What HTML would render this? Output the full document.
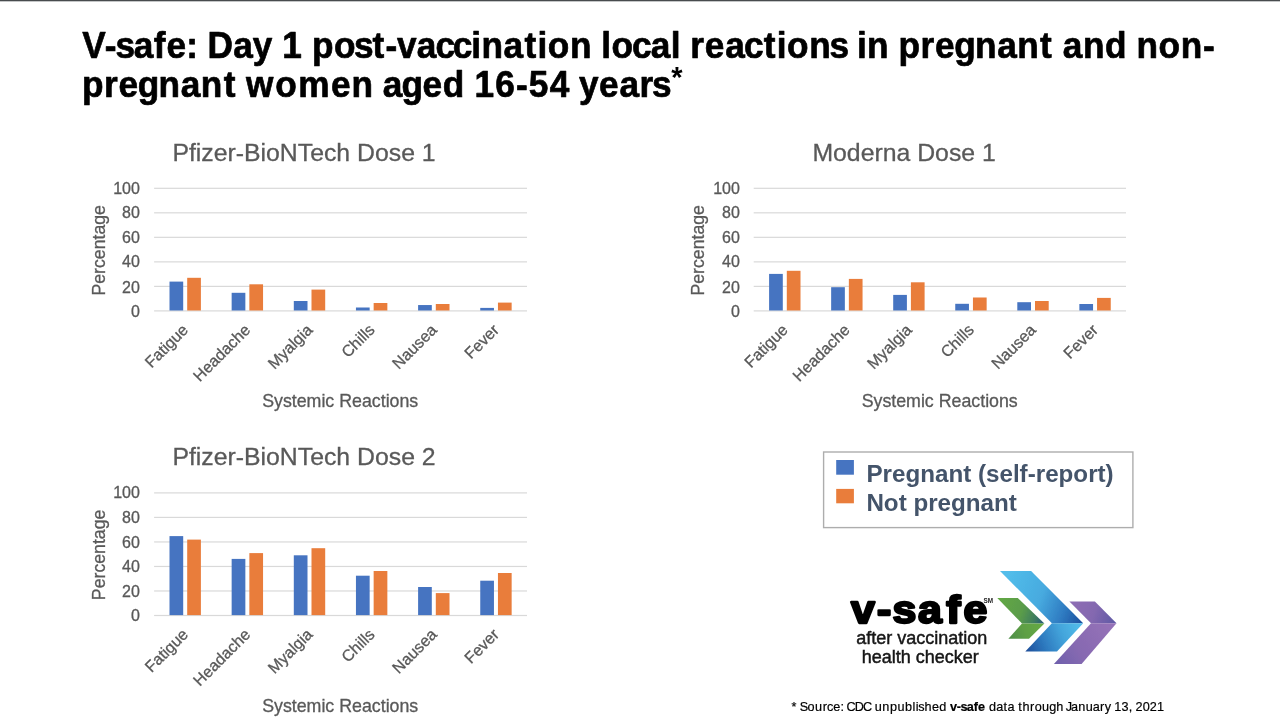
<!DOCTYPE html>
<html lang="en"><head><meta charset="utf-8"><title>V-safe: Day 1 post-vaccination reactions</title>
<style>
html,body{margin:0;padding:0;background:#fff;}
body{width:1280px;height:722px;position:relative;overflow:hidden;font-family:"Liberation Sans",sans-serif;}
.topbar{position:absolute;left:0;top:0;width:1280px;height:1px;background:#484b4e;}
.topbar2{position:absolute;left:0;top:1px;width:1280px;height:1px;background:#c4c6c7;}
</style></head><body>
<div class="topbar"></div><div class="topbar2"></div>
<svg width="1280" height="722" viewBox="0 0 1280 722" style="position:absolute;left:0;top:0;font-family:'Liberation Sans',sans-serif">
<defs>
<filter id="blur" x="-5%" y="-5%" width="110%" height="110%"><feGaussianBlur stdDeviation="0.45"/></filter>
<linearGradient id="gb1" gradientUnits="userSpaceOnUse" x1="1003" y1="588" x2="1083" y2="620"><stop offset="0" stop-color="#52BDEA"/><stop offset="0.45" stop-color="#47AADF"/><stop offset="0.75" stop-color="#2F7CC2"/><stop offset="1" stop-color="#1D4F9E"/></linearGradient>
<linearGradient id="gb2" gradientUnits="userSpaceOnUse" x1="1026" y1="650" x2="1078" y2="628"><stop offset="0" stop-color="#1E4F9B"/><stop offset="0.35" stop-color="#2E7BC0"/><stop offset="0.7" stop-color="#43A4DB"/><stop offset="1" stop-color="#50B9E8"/></linearGradient>
<linearGradient id="gg1" gradientUnits="userSpaceOnUse" x1="999" y1="604" x2="1044" y2="621"><stop offset="0" stop-color="#62A744"/><stop offset="0.5" stop-color="#5A9C4A"/><stop offset="0.8" stop-color="#3F7D5E"/><stop offset="1" stop-color="#27597A"/></linearGradient>
<linearGradient id="gg2" gradientUnits="userSpaceOnUse" x1="1009" y1="638" x2="1040" y2="625"><stop offset="0" stop-color="#4E8E47"/><stop offset="0.5" stop-color="#5E9F45"/><stop offset="1" stop-color="#65A843"/></linearGradient>
<linearGradient id="gp1" gradientUnits="userSpaceOnUse" x1="1071" y1="605" x2="1116" y2="621"><stop offset="0" stop-color="#8E6DB4"/><stop offset="0.5" stop-color="#8468B0"/><stop offset="1" stop-color="#5E59A5"/></linearGradient>
<linearGradient id="gp2" gradientUnits="userSpaceOnUse" x1="1055" y1="662" x2="1108" y2="627"><stop offset="0" stop-color="#6F60AC"/><stop offset="0.4" stop-color="#8669B1"/><stop offset="1" stop-color="#9471B7"/></linearGradient>
</defs>
<g transform="translate(0,0)" stroke="#595959" stroke-width="0.3">
<rect x="154.1" y="310.30" width="372.90" height="1.2" fill="#D9D9D9" stroke="none"/>
<text x="139.9" y="316.50" text-anchor="end" font-size="16" fill="#595959">0</text>
<rect x="154.1" y="285.78" width="372.90" height="1.2" fill="#D9D9D9" stroke="none"/>
<text x="139.9" y="292.58" text-anchor="end" font-size="16" fill="#595959">20</text>
<rect x="154.1" y="261.26" width="372.90" height="1.2" fill="#D9D9D9" stroke="none"/>
<text x="139.9" y="267.46" text-anchor="end" font-size="16" fill="#595959">40</text>
<rect x="154.1" y="236.74" width="372.90" height="1.2" fill="#D9D9D9" stroke="none"/>
<text x="139.9" y="242.94" text-anchor="end" font-size="16" fill="#595959">60</text>
<rect x="154.1" y="212.22" width="372.90" height="1.2" fill="#D9D9D9" stroke="none"/>
<text x="139.9" y="218.42" text-anchor="end" font-size="16" fill="#595959">80</text>
<rect x="154.1" y="187.70" width="372.90" height="1.2" fill="#D9D9D9" stroke="none"/>
<text x="139.9" y="193.90" text-anchor="end" font-size="16" fill="#595959">100</text>
<rect x="169.50" y="281.60" width="13.7" height="28.90" fill="#4674C1" stroke="none"/>
<rect x="187.20" y="277.80" width="13.7" height="32.70" fill="#E97D3B" stroke="none"/>
<text transform="translate(189.17,330.90) rotate(-45)" text-anchor="end" font-size="16" fill="#595959">Fatigue</text>
<rect x="231.65" y="292.80" width="13.7" height="17.70" fill="#4674C1" stroke="none"/>
<rect x="249.35" y="284.30" width="13.7" height="26.20" fill="#E97D3B" stroke="none"/>
<text transform="translate(251.32,330.90) rotate(-45)" text-anchor="end" font-size="16" fill="#595959">Headache</text>
<rect x="293.80" y="301.00" width="13.7" height="9.50" fill="#4674C1" stroke="none"/>
<rect x="311.50" y="289.60" width="13.7" height="20.90" fill="#E97D3B" stroke="none"/>
<text transform="translate(313.47,330.90) rotate(-45)" text-anchor="end" font-size="16" fill="#595959">Myalgia</text>
<rect x="355.95" y="307.50" width="13.7" height="3.00" fill="#4674C1" stroke="none"/>
<rect x="373.65" y="303.00" width="13.7" height="7.50" fill="#E97D3B" stroke="none"/>
<text transform="translate(375.62,330.90) rotate(-45)" text-anchor="end" font-size="16" fill="#595959">Chills</text>
<rect x="418.10" y="305.05" width="13.7" height="5.45" fill="#4674C1" stroke="none"/>
<rect x="435.80" y="304.00" width="13.7" height="6.50" fill="#E97D3B" stroke="none"/>
<text transform="translate(437.77,330.90) rotate(-45)" text-anchor="end" font-size="16" fill="#595959">Nausea</text>
<rect x="480.25" y="307.90" width="13.7" height="2.60" fill="#4674C1" stroke="none"/>
<rect x="497.95" y="302.60" width="13.7" height="7.90" fill="#E97D3B" stroke="none"/>
<text transform="translate(499.93,330.90) rotate(-45)" text-anchor="end" font-size="16" fill="#595959">Fever</text>
<text x="304.00" y="160.6" text-anchor="middle" font-size="24.8" fill="#595959">Pfizer-BioNTech Dose 1</text>
<text transform="translate(105.2,250.3) rotate(-90)" text-anchor="middle" font-size="17.7" fill="#595959">Percentage</text>
<text x="340.2" y="407.1" text-anchor="middle" font-size="17.8" fill="#595959">Systemic Reactions</text>
</g>
<g transform="translate(599.5,0)" stroke="#595959" stroke-width="0.3">
<rect x="154.2" y="310.30" width="372.30" height="1.2" fill="#D9D9D9" stroke="none"/>
<text x="140.4" y="316.50" text-anchor="end" font-size="16" fill="#595959">0</text>
<rect x="154.2" y="285.78" width="372.30" height="1.2" fill="#D9D9D9" stroke="none"/>
<text x="140.4" y="292.58" text-anchor="end" font-size="16" fill="#595959">20</text>
<rect x="154.2" y="261.26" width="372.30" height="1.2" fill="#D9D9D9" stroke="none"/>
<text x="140.4" y="267.46" text-anchor="end" font-size="16" fill="#595959">40</text>
<rect x="154.2" y="236.74" width="372.30" height="1.2" fill="#D9D9D9" stroke="none"/>
<text x="140.4" y="242.94" text-anchor="end" font-size="16" fill="#595959">60</text>
<rect x="154.2" y="212.22" width="372.30" height="1.2" fill="#D9D9D9" stroke="none"/>
<text x="140.4" y="218.42" text-anchor="end" font-size="16" fill="#595959">80</text>
<rect x="154.2" y="187.70" width="372.30" height="1.2" fill="#D9D9D9" stroke="none"/>
<text x="140.4" y="193.90" text-anchor="end" font-size="16" fill="#595959">100</text>
<rect x="169.60" y="273.90" width="13.7" height="36.60" fill="#4674C1" stroke="none"/>
<rect x="187.30" y="270.80" width="13.7" height="39.70" fill="#E97D3B" stroke="none"/>
<text transform="translate(189.22,330.90) rotate(-45)" text-anchor="end" font-size="16" fill="#595959">Fatigue</text>
<rect x="231.65" y="287.20" width="13.7" height="23.30" fill="#4674C1" stroke="none"/>
<rect x="249.35" y="278.90" width="13.7" height="31.60" fill="#E97D3B" stroke="none"/>
<text transform="translate(251.28,330.90) rotate(-45)" text-anchor="end" font-size="16" fill="#595959">Headache</text>
<rect x="293.70" y="294.90" width="13.7" height="15.60" fill="#4674C1" stroke="none"/>
<rect x="311.40" y="282.30" width="13.7" height="28.20" fill="#E97D3B" stroke="none"/>
<text transform="translate(313.32,330.90) rotate(-45)" text-anchor="end" font-size="16" fill="#595959">Myalgia</text>
<rect x="355.75" y="303.80" width="13.7" height="6.70" fill="#4674C1" stroke="none"/>
<rect x="373.45" y="297.50" width="13.7" height="13.00" fill="#E97D3B" stroke="none"/>
<text transform="translate(375.38,330.90) rotate(-45)" text-anchor="end" font-size="16" fill="#595959">Chills</text>
<rect x="417.80" y="302.20" width="13.7" height="8.30" fill="#4674C1" stroke="none"/>
<rect x="435.50" y="301.00" width="13.7" height="9.50" fill="#E97D3B" stroke="none"/>
<text transform="translate(437.42,330.90) rotate(-45)" text-anchor="end" font-size="16" fill="#595959">Nausea</text>
<rect x="479.85" y="304.00" width="13.7" height="6.50" fill="#4674C1" stroke="none"/>
<rect x="497.55" y="297.90" width="13.7" height="12.60" fill="#E97D3B" stroke="none"/>
<text transform="translate(499.47,330.90) rotate(-45)" text-anchor="end" font-size="16" fill="#595959">Fever</text>
<text x="304.60" y="160.6" text-anchor="middle" font-size="24.8" fill="#595959">Moderna Dose 1</text>
<text transform="translate(104.7,250.3) rotate(-90)" text-anchor="middle" font-size="17.7" fill="#595959">Percentage</text>
<text x="340.2" y="407.1" text-anchor="middle" font-size="17.8" fill="#595959">Systemic Reactions</text>
</g>
<g transform="translate(0,304.6)" stroke="#595959" stroke-width="0.3">
<rect x="154.1" y="310.30" width="372.90" height="1.2" fill="#D9D9D9" stroke="none"/>
<text x="139.9" y="316.50" text-anchor="end" font-size="16" fill="#595959">0</text>
<rect x="154.1" y="285.78" width="372.90" height="1.2" fill="#D9D9D9" stroke="none"/>
<text x="139.9" y="291.98" text-anchor="end" font-size="16" fill="#595959">20</text>
<rect x="154.1" y="261.26" width="372.90" height="1.2" fill="#D9D9D9" stroke="none"/>
<text x="139.9" y="267.46" text-anchor="end" font-size="16" fill="#595959">40</text>
<rect x="154.1" y="236.74" width="372.90" height="1.2" fill="#D9D9D9" stroke="none"/>
<text x="139.9" y="242.94" text-anchor="end" font-size="16" fill="#595959">60</text>
<rect x="154.1" y="212.22" width="372.90" height="1.2" fill="#D9D9D9" stroke="none"/>
<text x="139.9" y="218.42" text-anchor="end" font-size="16" fill="#595959">80</text>
<rect x="154.1" y="187.70" width="372.90" height="1.2" fill="#D9D9D9" stroke="none"/>
<text x="139.9" y="193.90" text-anchor="end" font-size="16" fill="#595959">100</text>
<rect x="169.50" y="231.50" width="13.7" height="79.00" fill="#4674C1" stroke="none"/>
<rect x="187.20" y="235.00" width="13.7" height="75.50" fill="#E97D3B" stroke="none"/>
<text transform="translate(189.17,330.90) rotate(-45)" text-anchor="end" font-size="16" fill="#595959">Fatigue</text>
<rect x="231.65" y="254.30" width="13.7" height="56.20" fill="#4674C1" stroke="none"/>
<rect x="249.35" y="248.50" width="13.7" height="62.00" fill="#E97D3B" stroke="none"/>
<text transform="translate(251.32,330.90) rotate(-45)" text-anchor="end" font-size="16" fill="#595959">Headache</text>
<rect x="293.80" y="250.70" width="13.7" height="59.80" fill="#4674C1" stroke="none"/>
<rect x="311.50" y="243.60" width="13.7" height="66.90" fill="#E97D3B" stroke="none"/>
<text transform="translate(313.47,330.90) rotate(-45)" text-anchor="end" font-size="16" fill="#595959">Myalgia</text>
<rect x="355.95" y="271.10" width="13.7" height="39.40" fill="#4674C1" stroke="none"/>
<rect x="373.65" y="266.40" width="13.7" height="44.10" fill="#E97D3B" stroke="none"/>
<text transform="translate(375.62,330.90) rotate(-45)" text-anchor="end" font-size="16" fill="#595959">Chills</text>
<rect x="418.10" y="282.40" width="13.7" height="28.10" fill="#4674C1" stroke="none"/>
<rect x="435.80" y="288.50" width="13.7" height="22.00" fill="#E97D3B" stroke="none"/>
<text transform="translate(437.77,330.90) rotate(-45)" text-anchor="end" font-size="16" fill="#595959">Nausea</text>
<rect x="480.25" y="276.10" width="13.7" height="34.40" fill="#4674C1" stroke="none"/>
<rect x="497.95" y="268.40" width="13.7" height="42.10" fill="#E97D3B" stroke="none"/>
<text transform="translate(499.93,330.90) rotate(-45)" text-anchor="end" font-size="16" fill="#595959">Fever</text>
<text x="304.00" y="160.6" text-anchor="middle" font-size="24.8" fill="#595959">Pfizer-BioNTech Dose 2</text>
<text transform="translate(105.2,250.3) rotate(-90)" text-anchor="middle" font-size="17.7" fill="#595959">Percentage</text>
<text x="340.2" y="407.1" text-anchor="middle" font-size="17.8" fill="#595959">Systemic Reactions</text>
</g>
<rect x="823.6" y="452.0" width="309.3" height="75.6" fill="#fff" stroke="#adadad" stroke-width="1.4"/>
<rect x="836.2" y="460.0" width="17.7" height="14.7" fill="#4674C1"/>
<rect x="836.2" y="488.9" width="17.7" height="14.4" fill="#E97D3B"/>
<text x="866.4" y="482.2" font-size="24.2" font-weight="bold" fill="#44546A">Pregnant (self-report)</text>
<text x="866.4" y="511" font-size="24.2" font-weight="bold" fill="#44546A">Not pregnant</text>
<g filter="url(#blur)">
<polygon points="1000,571 1031.1,571 1083.2,623.3 1051.9,623.3" fill="url(#gb1)"/>
<polygon points="1051.9,623.3 1083.2,623.3 1057,651.5 1025.3,651.5" fill="url(#gb2)"/>
<polygon points="997.3,598.05 1017.8,598.05 1044.4,623.45 1022,623.45" fill="url(#gg1)"/>
<polygon points="1022,623.45 1044.4,623.45 1029,638.65 1008.4,638.65" fill="url(#gg2)"/>
<polygon points="1069.4,601.6 1094.9,601.6 1116.5,623.2 1091,623.2" fill="url(#gp1)"/>
<polygon points="1091,623.2 1116.5,623.2 1081.6,664 1053.9,664" fill="url(#gp2)"/>
</g>
<g filter="url(#blur)">
<text transform="scale(1.12,1)" x="759.83 782.97 796.79 819.56 844.89 860.27" y="623.5" font-size="38.2" font-weight="bold" fill="#000" stroke="#000" stroke-width="2.3" stroke-linejoin="round">v-safe</text>
<text x="983.6" y="603" font-size="7.6" font-weight="bold" fill="#222" textLength="9.6" lengthAdjust="spacingAndGlyphs">SM</text>
<text x="921.8" y="644" font-size="18" text-anchor="middle" fill="#151515" stroke="#151515" stroke-width="0.45">after vaccination</text>
<text x="920.2" y="663.4" font-size="18" text-anchor="middle" fill="#151515" stroke="#151515" stroke-width="0.45">health checker</text>
</g>
<g font-size="36.9" font-weight="bold" fill="#000" stroke="#000" stroke-width="0.7" stroke-linejoin="round">
<text transform="scale(0.955,1)" y="58" x="86.22 109.80 120.87 139.99 161.07 174.23 195.15 206.98 217.24 244.13 264.58 284.79 295.45 316.38 326.67 349.81 370.76 390.17 403.56 415.76 436.27 455.93 473.97 493.42 504.12 527.13 549.15 562.93 573.67 596.82 619.40 629.56 640.29 661.78 681.30 702.36 712.53 722.76 737.95 759.43 779.09 799.69 813.47 824.20 847.35 868.52 887.12 897.28 907.99 930.57 940.86 963.94 979.13 999.17 1020.95 1044.16 1065.15 1089.11 1102.47 1112.84 1134.03 1157.17 1179.74 1190.03 1213.18 1236.32 1259.61">V-safe: Day 1 post-vaccination local reactions in pregnant and non-</text>
<text transform="scale(0.955,1)" y="97.4" x="85.95 109.02 124.20 144.26 166.03 189.24 210.23 234.18 246.19 257.71 288.26 312.23 346.74 368.15 390.52 400.90 420.51 442.35 463.75 486.23 496.88 518.72 540.36 553.77 575.61 596.64 606.33 627.15 648.63 669.74 682.65">pregnant women aged 16-54 years</text>
</g>
<text x="671.2" y="86.9" font-size="29" font-weight="bold" fill="#000">*</text>
<g font-size="13" fill="#000" stroke="#000" stroke-width="0.2">
<text transform="scale(0.975,1)" y="711.3" x="811.78 817.81 820.31 828.26 835.99 843.74 848.19 854.58 862.00 865.62 868.30 876.72 885.14 893.60 897.29 904.99 912.70 920.41 928.11 935.81 939.17 941.92 948.28 955.78 963.28">* Source: CDC unpublished</text>
<text transform="scale(0.975,1)" y="711.3" font-weight="bold" x="974.30 981.31 985.03 991.53 998.75 1003.18">v-safe</text>
<text transform="scale(0.975,1)" y="711.3" x="1014.46 1021.70 1029.27 1033.28 1040.20 1044.26 1048.71 1056.40 1061.19 1068.85 1076.10 1083.36 1090.62 1093.11 1098.54 1105.85 1113.50 1120.81 1128.31 1133.08 1139.45 1142.95 1150.32 1157.62 1161.05 1164.57 1171.95 1179.33 1186.70">data through January 13, 2021</text>
</g>
</svg>
</body></html>
